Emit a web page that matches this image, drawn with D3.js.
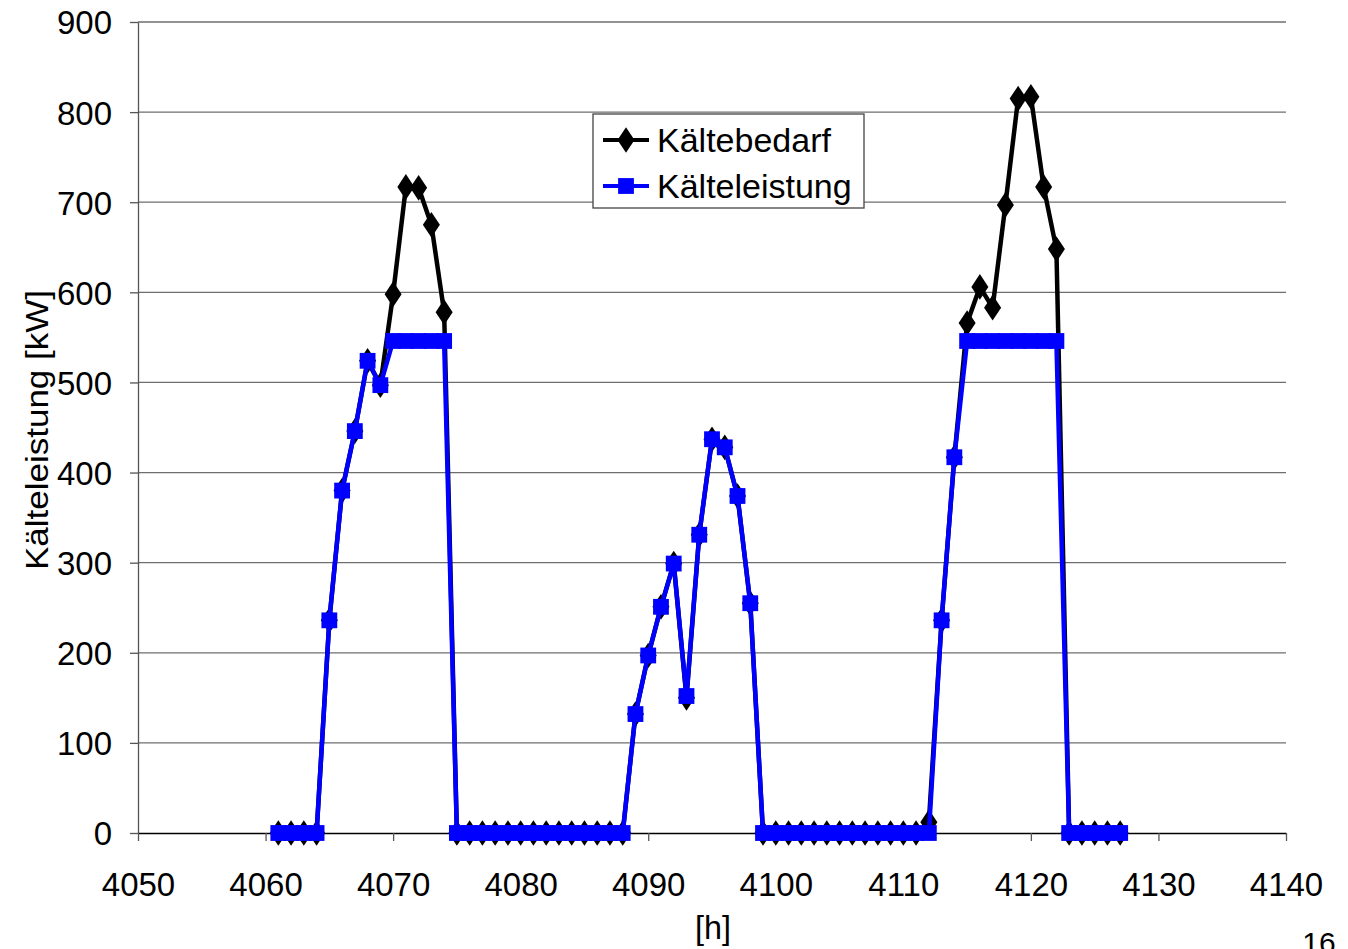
<!DOCTYPE html>
<html>
<head>
<meta charset="utf-8">
<script src="https://cdn.jsdelivr.net/npm/d3@7"></script>
<style>
  html, body { margin: 0; padding: 0; background: #fff; }
  svg { display: block; font-family: "Liberation Sans", Arial, sans-serif; }
</style>
</head>
<body>
<svg id="chart" width="1348" height="949"></svg>
<script>
// ---- data ----
const hours = d3.range(4061, 4128);
const kaeltebedarf = [
  0, 0, 0, 0, 236, 380, 446, 524, 497, 598, 717, 716, 675, 578,
  0, 0, 0, 0, 0, 0, 0, 0, 0, 0, 0, 0, 0, 0,
  132, 197, 251, 299, 150, 331, 437, 428, 374, 255,
  0, 0, 0, 0, 0, 0, 0, 0, 0, 0, 0, 0, 0, 12,
  236, 417, 566, 606, 583, 697, 815, 817, 717, 648,
  0, 0, 0, 0, 0
];
const kaelteleistung = [
  0, 0, 0, 0, 236, 380, 446, 524, 497, 546, 546, 546, 546, 546,
  0, 0, 0, 0, 0, 0, 0, 0, 0, 0, 0, 0, 0, 0,
  132, 197, 251, 299, 152, 331, 437, 428, 374, 255,
  0, 0, 0, 0, 0, 0, 0, 0, 0, 0, 0, 0, 0, 0,
  236, 417, 546, 546, 546, 546, 546, 546, 546, 546,
  0, 0, 0, 0, 0
];
const xTicks = [4050, 4060, 4070, 4080, 4090, 4100, 4110, 4120, 4130, 4140];
const yTicks = [0, 100, 200, 300, 400, 500, 600, 700, 800, 900];
const seriesNames = ["Kältebedarf", "Kälteleistung"];

// ---- layout ----
const svg = d3.select("#chart");
const L = 138, R = 1286, T = 22, B = 833;
const x = d3.scaleLinear().domain([4050, 4140]).range([L, R]);
const y = d3.scaleLinear().domain([0, 900]).range([B, T]);

// gridlines
svg.append("g").selectAll("line").data(yTicks.filter(d => d > 0)).join("line")
  .attr("x1", L).attr("x2", R)
  .attr("y1", d => y(d)).attr("y2", d => y(d))
  .attr("stroke", "#6e6e6e").attr("stroke-width", 1.3);

// axes
const yAxis = d3.axisLeft(y).tickValues(yTicks).tickSize(8).tickSizeOuter(0).tickPadding(18);
const gy = svg.append("g").attr("transform", `translate(${L},0)`).call(yAxis);
gy.select(".domain").attr("stroke", "#555").attr("stroke-width", 1.3);
gy.selectAll(".tick line").attr("stroke", "#555").attr("stroke-width", 1.3);
gy.selectAll(".tick text").attr("font-size", 33).attr("fill", "#000")
  .attr("font-family", "Liberation Sans, Arial, sans-serif").attr("dy", "0.36em");

const xAxis = d3.axisBottom(x).tickValues(xTicks).tickSize(8).tickSizeOuter(0).tickPadding(32)
  .tickFormat(d3.format("d"));
const gx = svg.append("g").attr("transform", `translate(0,${B})`).call(xAxis);
gx.select(".domain").attr("stroke", "#000").attr("stroke-width", 1.5);
gx.selectAll(".tick line").attr("stroke", "#555").attr("stroke-width", 1.3);
gx.selectAll(".tick text").attr("font-size", 33).attr("fill", "#000")
  .attr("font-family", "Liberation Sans, Arial, sans-serif");

// axis titles
svg.append("text")
  .attr("transform", "translate(48,430) rotate(-90)")
  .attr("text-anchor", "middle")
  .attr("font-size", 31)
  .attr("textLength", 280).attr("lengthAdjust", "spacingAndGlyphs")
  .text("Kälteleistung [kW]");
svg.append("text")
  .attr("x", 713).attr("y", 939)
  .attr("text-anchor", "middle")
  .attr("font-size", 34)
  .attr("textLength", 36).attr("lengthAdjust", "spacingAndGlyphs")
  .text("[h]");
svg.append("text")
  .attr("x", 1319).attr("y", 953)
  .attr("text-anchor", "middle")
  .attr("font-size", 30)
  .text("16");

// ---- series ----
const line = d3.line().x(d => x(d[0])).y(d => y(d[1]));
const dataA = hours.map((h, i) => [h, kaeltebedarf[i]]);
const dataB = hours.map((h, i) => [h, kaelteleistung[i]]);

const diamond = d3.symbol().type(d3.symbolDiamond).size(190);
const square = d3.symbol().type(d3.symbolSquare).size(250);

svg.append("path").datum(dataA).attr("d", line)
  .attr("fill", "none").attr("stroke", "#000").attr("stroke-width", 4.5).attr("stroke-linejoin", "round");
svg.append("g").selectAll("path").data(dataA).join("path")
  .attr("d", diamond).attr("transform", d => `translate(${x(d[0])},${y(d[1])}) scale(1.15,1)`)
  .attr("fill", "#000");

svg.append("path").datum(dataB).attr("d", line)
  .attr("fill", "none").attr("stroke", "#0000ff").attr("stroke-width", 4.5).attr("stroke-linejoin", "round");
svg.append("g").selectAll("path").data(dataB).join("path")
  .attr("d", square).attr("transform", d => `translate(${x(d[0])},${y(d[1])})`)
  .attr("fill", "#0000ff");

// ---- legend ----
const lg = svg.append("g");
lg.append("rect").attr("x", 593).attr("y", 114).attr("width", 271).attr("height", 94)
  .attr("fill", "#fff").attr("stroke", "#444").attr("stroke-width", 1.3);
const legendItems = [
  { name: seriesNames[0], color: "#000", sym: diamond, yy: 140, sx: 1.15 },
  { name: seriesNames[1], color: "#0000ff", sym: square, yy: 186, sx: 1 }
];
legendItems.forEach(it => {
  lg.append("line").attr("x1", 603).attr("x2", 649).attr("y1", it.yy).attr("y2", it.yy)
    .attr("stroke", it.color).attr("stroke-width", 4);
  lg.append("path").attr("d", it.sym).attr("transform", `translate(626,${it.yy}) scale(${it.sx},1)`)
    .attr("fill", it.color);
  lg.append("text").attr("x", 657).attr("y", it.yy + 12).attr("font-size", 34)
    .attr("fill", "#000").text(it.name);
});
</script>
</body>
</html>
